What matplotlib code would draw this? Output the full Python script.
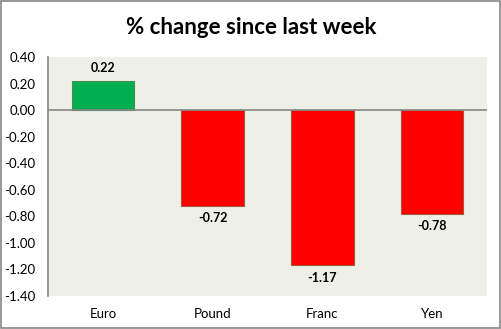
import matplotlib.pyplot as plt
import numpy as np

plt.rcParams['font.family'] = ['Lato', 'DejaVu Sans']

currencies = ['Euro', 'Pound', 'Franc', 'Yen']
changes = [0.22, -0.72, -1.17, -0.78]
ytick_vals = [0.40, 0.20, 0.00, -0.20, -0.40, -0.60, -0.80, -1.00, -1.20, -1.40]

colors = ['#00b050' if v > 0 else '#ff0000' for v in changes]
edges = ['#4f8a4f' if v > 0 else '#9c5a3c' for v in changes]

fig = plt.figure(figsize=(5.02, 3.29), dpi=100)
ax = fig.add_axes([48/502, 1 - 296/329, (487-48)/502, (296-57)/329])
ax.set_facecolor('#eef0e8')

x = np.arange(len(currencies))
ax.bar(x, changes, width=0.57, color=colors, edgecolor=edges, linewidth=0.8, zorder=2)
ax.axhline(0, color='#868686', linewidth=1.2, zorder=3)

for xi, v in zip(x, changes):
    if v >= 0:
        ax.text(xi, v + 0.05, f'{v:.2f}', ha='center', va='bottom', fontsize=9, fontweight='bold')
    else:
        ax.text(xi, v - 0.05, f'{v:.2f}', ha='center', va='top', fontsize=9, fontweight='bold')

ax.set_xlim(-0.5, len(currencies) - 0.5)
ax.set_ylim(-1.40, 0.40)
ax.set_yticks(ytick_vals)
ax.set_yticklabels([f'{v:.2f}' for v in ytick_vals], fontsize=9.5)
ax.set_xticks(x)
ax.set_xticklabels(currencies, fontsize=9.5)
ax.tick_params(axis='both', length=0)
ax.tick_params(axis='x', pad=9)
ax.tick_params(axis='y', pad=9)

for s in ['top', 'right', 'bottom']:
    ax.spines[s].set_visible(False)
ax.spines['left'].set_color('#868686')
ax.spines['left'].set_linewidth(1.2)

fig.text(0.5, 1 - 27/329, '% change since last week', ha='center', va='center',
         fontsize=16, fontweight='bold')

fig.patches.append(plt.Rectangle((0.002, 0.003), 0.995, 0.994, transform=fig.transFigure,
                                 fill=False, edgecolor='#868686', linewidth=1.2))

fig.savefig('out.png', dpi=100)
